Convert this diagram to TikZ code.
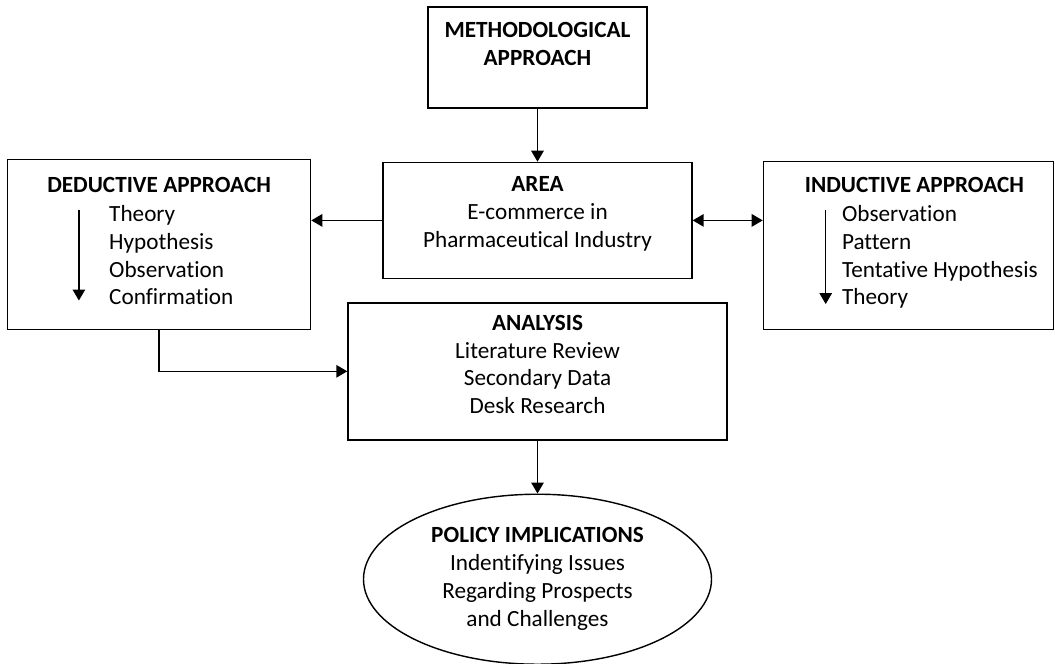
\documentclass[tikz,border=0pt]{standalone}
\usepackage{fontspec}
\setmainfont{Carlito}[Ligatures={NoCommon}]
\usetikzlibrary{positioning,shapes.geometric,arrows.meta}
\tikzset{box node/.style={rectangle,draw,line width=.8pt,inner sep=0pt,align=center,font=\fontsize{13.2}{15.9}\selectfont},
  oval node/.style={ellipse,draw,line width=.8pt,inner sep=0pt,align=center,font=\fontsize{13.2}{15.9}\selectfont},
  list node/.style={inner sep=0pt,align=left,font=\fontsize{13.2}{15.9}\selectfont},
  title node/.style={inner sep=0pt,font=\fontsize{13.2}{15.9}\selectfont\bfseries},
  link/.style={line width=.85pt,-{Triangle[length=2.2mm,width=2.5mm]}},
  both link/.style={line width=.85pt,{Triangle[length=2.2mm,width=2.5mm]}-{Triangle[length=2.2mm,width=2.5mm]}},}

\begin{document}
\begin{tikzpicture}
    \useasboundingbox (0,0) rectangle (21.1,-13.28);

    % middle column
    \node[box node,minimum width=4.38cm,minimum height=2.02cm] (1) at (10.75,-1.15) {\textbf{METHODOLOGICAL}\\\textbf{APPROACH}\\~};
    \node[box node,minimum width=6.18cm,minimum height=2.32cm] (2) [below = 1.06cm of 1] {\textbf{AREA}\\E-commerce in\\Pharmaceutical Industry\\[-6pt]~};
    \node[box node,minimum width=7.58cm,minimum height=2.74cm] (5) [below = .46cm of 2] {\textbf{ANALYSIS}\\Literature Review\\Secondary Data\\Desk Research\\[-8pt]~};
    \node[oval node,minimum width=6.96cm,minimum height=3.40cm] (6) [below = 1.06cm of 5] {~\\[-8pt]\textbf{POLICY IMPLICATIONS}\\Indentifying Issues\\Regarding Prospects\\and Challenges};

    % side boxes
    \node[box node,minimum width=6.06cm,minimum height=3.40cm] (3) [below left = -.06cm and 1.42cm of 2.north west] {};
    \node[title node,anchor=base] (7) at ([yshift=-.67cm]3.north) {DEDUCTIVE APPROACH};
    \node[list node,anchor=north west] (8) at ([xshift=2.04cm,yshift=-.92cm]3.north west) {Theory\\Hypothesis\\Observation\\Confirmation};

    \node[box node,minimum width=5.80cm,minimum height=3.36cm] (4) [below right = -.02cm and 1.40cm of 2.north east] {};
    \node[title node,anchor=base] (9) at ([xshift=.12cm,yshift=-.63cm]4.north) {INDUCTIVE APPROACH};
    \node[list node,anchor=north west] (10) at ([xshift=1.58cm,yshift=-.88cm]4.north west) {Observation\\Pattern\\Tentative Hypothesis\\Theory};

    \path
    (1) edge[link] (2)
    (2.west) edge[link] (2.west -| 3.east)
    (2.east) edge[both link] (2.east -| 4.west)
    (5) edge[link] (6)
    ;
    \draw[link] (3) |- (5);

    % arrows beside the lists
    \draw[link] ([xshift=-.6cm,yshift=-.1cm]8.north west) -- ([xshift=-.6cm,yshift=.1cm]8.south west);
    \draw[link] ([xshift=-.32cm,yshift=-.1cm]10.north west) -- ([xshift=-.32cm,yshift=.1cm]10.south west);
\end{tikzpicture}
\end{document}
